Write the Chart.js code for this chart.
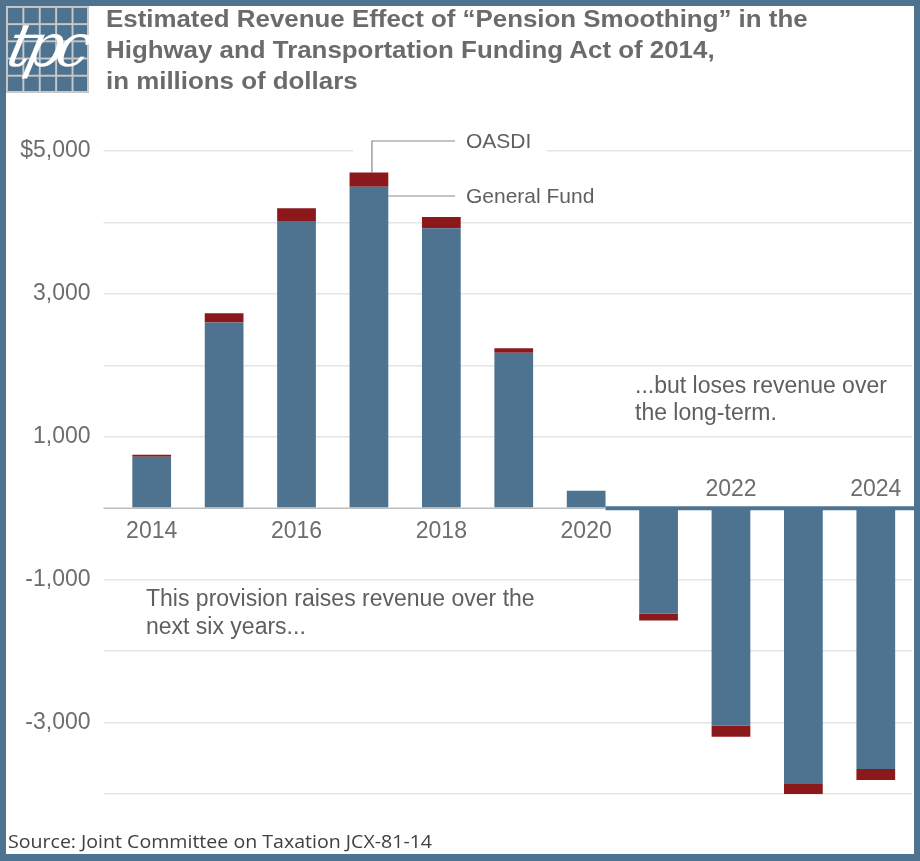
<!DOCTYPE html>
<html>
<head>
<meta charset="utf-8">
<script src="https://cdn.jsdelivr.net/npm/chart.js@4.4.0/dist/chart.umd.min.js"></script>
<style>
  html, body { margin: 0; padding: 0; background: #fff; }
  #wrap { position: relative; width: 920px; height: 861px; overflow: hidden; }
  #chart { position: absolute; left: 0; top: 0; }
  #frame { position: absolute; left: 0; top: 0; width: 920px; height: 861px; box-sizing: border-box;
           border: solid #4e7390; border-width: 6px 6px 7px 6px; pointer-events: none; }
  .title { position: absolute; left: 106px; top: 4px; font: bold 23px "Liberation Sans", Arial, sans-serif;
           color: #6b6b6e; line-height: 31px; white-space: nowrap;
           transform: scaleX(1.125); transform-origin: 0 0; }
  .source { position: absolute; left: 8px; top: 831px; font: 19px "Open Sans", sans-serif; line-height: 20px;
            color: #404040; white-space: nowrap; transform: scaleX(1.03); transform-origin: 0 0; }
  .logo { position: absolute; left: 6px; top: 6px; width: 83px; height: 87px; background-color: #4e7390;
          background-image: linear-gradient(to right, #c8c8c8 2px, transparent 2px),
                            linear-gradient(to bottom, #c8c8c8 2px, transparent 2px);
          background-size: 16.4px 17.2px; box-shadow: inset -2px -2px 0 #c8c8c8; overflow: hidden; }
  .logo span { position: absolute; left: 3px; top: 4px; font: italic 60px "DejaVu Serif", serif; color: #fff;
               letter-spacing: -7px; transform: skewX(-12deg); }
</style>
</head>
<body>
<div id="wrap">
  <canvas id="chart" width="920" height="861"></canvas>
  <div class="logo"><span>tpc</span></div>
  <div class="title">Estimated Revenue Effect of “Pension Smoothing” in the<br>Highway and Transportation Funding Act of 2014,<br>in millions of dollars</div>
  <div class="source">Source: Joint Committee on Taxation JCX-81-14</div>
  <div id="frame"></div>
</div>
<script>
// fiscal years
var years = ["2014", "2015", "2016", "2017", "2018", "2019", "2020", "2021", "2022", "2023", "2024"];
// millions of dollars
var generalFund = [720, 2600, 4020, 4500, 3920, 2175, 245, -1475, -3040, -3850, -3650];
var oasdi = [28, 130, 180, 200, 155, 65, -10, -95, -160, -170, -155];
// y tick values that get a label
var yLabelTicks = [5000, 3000, 1000, -1000, -3000];

var blue = "#4e7390";
var red = "#8b181b";
var textGray = "#5f5f5f";

var extras = {
  id: "extras",
  beforeDatasetsDraw: function (chart) {
    var c = chart.ctx, y = chart.scales.y;
    // break in the top gridline behind the callout
    c.save();
    c.fillStyle = "#fff";
    var y5 = y.getPixelForValue(5000);
    c.fillRect(353, y5 - 4, 194, 8);
    c.restore();
  },
  afterDatasetsDraw: function (chart) {
    var c = chart.ctx, x = chart.scales.x, y = chart.scales.y, area = chart.chartArea;
    var bars = chart.getDatasetMeta(0).data;
    var top = chart.getDatasetMeta(1).data;
    var y0 = y.getPixelForValue(0);
    var b20 = bars[6];
    var split = b20.x + b20.width / 2;
    c.save();
    // zero line
    c.strokeStyle = "#bdbdbd";
    c.lineWidth = 1.5;
    c.beginPath();
    c.moveTo(area.left - 12, y0);
    c.lineTo(split, y0);
    c.stroke();
    c.strokeStyle = blue;
    c.lineWidth = 4;
    c.beginPath();
    c.moveTo(split, y0);
    c.lineTo(920, y0);
    c.stroke();

    // year labels
    c.font = "23px 'Liberation Sans', Arial, sans-serif";
    c.fillStyle = "#6d6d6d";
    c.textAlign = "center";
    c.textBaseline = "middle";
    years.forEach(function (yr, i) {
      if (i % 2) return;
      var px = x.getPixelForValue(i);
      var total = generalFund[i] + oasdi[i];
      c.fillText(yr, px, total >= 0 ? y0 + 23 : y0 - 19);
    });

    // callout lines for 2017
    var b = bars[3], t = top[3];
    var lineEnd = 455;
    c.strokeStyle = "#8a8a8a";
    c.lineWidth = 1.2;
    c.beginPath();
    c.moveTo(b.x + 3, t.y);
    c.lineTo(b.x + 3, y.getPixelForValue(5000) - 10);
    c.lineTo(lineEnd, y.getPixelForValue(5000) - 10);
    c.stroke();
    var gy = y.getPixelForValue(generalFund[3] - 130);
    c.beginPath();
    c.moveTo(b.x + b.width / 2, gy);
    c.lineTo(lineEnd, gy);
    c.stroke();

    c.textAlign = "left";
    c.fillStyle = textGray;
    c.font = "21px 'Liberation Sans', Arial, sans-serif";
    c.fillText("OASDI", 466, y.getPixelForValue(5000) - 9);
    c.fillText("General Fund", 466, gy + 1);

    c.font = "23px 'Liberation Sans', Arial, sans-serif";
    c.fillText("...but loses revenue over", 635, 387);
    c.fillText("the long-term.", 635, 414);
    c.fillText("This provision raises revenue over the", 146, 600);
    c.fillText("next six years...", 146, 628);
    c.restore();
  }
};

new Chart(document.getElementById("chart"), {
  type: "bar",
  data: {
    labels: years,
    datasets: [
      { label: "General Fund", data: generalFund, backgroundColor: blue, borderWidth: 0 },
      { label: "OASDI", data: oasdi, backgroundColor: red, borderWidth: 0 }
    ]
  },
  options: {
    responsive: false,
    animation: false,
    devicePixelRatio: 1,
    layout: { padding: { left: 0, right: 8, top: 151, bottom: 67 } },
    plugins: { legend: { display: false }, tooltip: { enabled: false } },
    datasets: { bar: { categoryPercentage: 1, barPercentage: 0.535 } },
    scales: {
      x: { stacked: true, display: false },
      y: {
        stacked: true,
        min: -4000,
        max: 5000,
        afterFit: function (s) { s.width = 115.5; },
        border: { display: false },
        grid: {
          color: function (ctx) { return ctx.tick && ctx.tick.value === 0 ? "rgba(0,0,0,0)" : "#e4e4e4"; },
          lineWidth: 1.5,
          tickLength: 12
        },
        ticks: {
          stepSize: 1000,
          padding: 13,
          color: "#6d6d6d",
          font: { family: "'Liberation Sans', Arial, sans-serif", size: 23 },
          callback: function (v) {
            if (yLabelTicks.indexOf(v) < 0) return "";
            var s = Math.abs(v).toLocaleString("en-US");
            return (v < 0 ? "-" : "") + (v === 5000 ? "$" : "") + s;
          }
        }
      }
    }
  },
  plugins: [extras]
});
</script>
</body>
</html>
